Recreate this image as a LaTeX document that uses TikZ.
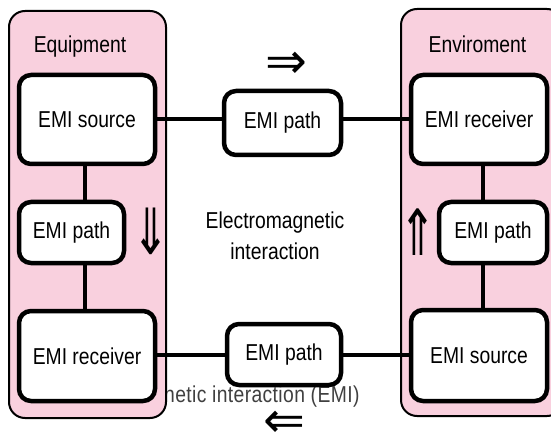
\documentclass[tikz,border=0pt]{standalone}
\usepackage{fontspec}
\setmainfont{Liberation Sans}[FakeStretch=0.84]
\newfontfamily\captionfont{Liberation Sans}[FakeStretch=0.84,LetterSpace=1.6]
\newfontfamily\arrowfont{DejaVu Sans}
\usetikzlibrary{positioning}
\definecolor{zonepink}{RGB}{249,208,222}

\begin{document}
\begin{tikzpicture}[x=1pt,y=-1pt,font=\fontsize{23}{31}\selectfont]
\tikzset{zone/.style={draw,line width=2pt,fill=zonepink,rounded corners=16pt,inner sep=0pt}};
\tikzset{emibox/.style={draw,line width=4.5pt,fill=white,rounded corners=12pt,inner sep=0pt}};
\tikzset{link/.style={line width=4pt}};
\tikzset{dirarrow/.style={font=\arrowfont,inner sep=0pt}};
\useasboundingbox (0,0) rectangle (551,438);
% the caption lying under the boxes
\node[anchor=base east,text=black!75,font=\captionfont\fontsize{23}{31}\selectfont] (caption) at (363,402) {Electromagnetic interaction (EMI)};
% the two sides
\node[zone,minimum width=157pt,minimum height=407pt] (equipment) at (87.5,214.5) {};
\node[zone,minimum width=162pt,minimum height=407pt] (enviroment) at (482,212.5) {};
\node[anchor=base] (eqtitle) at (80,53) {Equipment};
\node[anchor=base] (envtitle) at (477.5,53) {Enviroment};
% left column
\node[emibox,minimum width=136pt,minimum height=89pt] (srcL) at (87,119.5) {EMI source};
\node[emibox,minimum width=105pt,minimum height=61pt] (pathL) at (71.5,232.5) {EMI path};
\node[emibox,minimum width=136pt,minimum height=90pt] (rcvL) at (87,356) {EMI receiver};
% right column
\node[emibox,minimum width=136pt,minimum height=89pt] (rcvR) at (479,119.5) {EMI receiver};
\node[emibox,minimum width=108pt,minimum height=61pt] (pathR) at (493,232.5) {EMI path};
\node[emibox,minimum width=136pt,minimum height=91pt] (srcR) at (479,355.5) {EMI source};
% paths in between
\node[emibox,minimum width=117pt,minimum height=64pt] (pathT) at (282.5,123) {EMI path};
\node[emibox,minimum width=114pt,minimum height=61pt] (pathB) at (284,354.5) {EMI path};
\node[align=center] (middle) at (275,236) {Electromagnetic\\interaction};
% directions
\node[dirarrow,font=\arrowfont\fontsize{50}{50}\selectfont] (toright) at (286,65.5) {⇒};
\node[dirarrow,font=\arrowfont\fontsize{50}{50}\selectfont] (toleft) at (284,424) {⇐};
\node[dirarrow,font=\arrowfont\fontsize{44}{44}\selectfont] (down) at (151,231) {\scalebox{1}[1.45]{⇓}};
\node[dirarrow,font=\arrowfont\fontsize{44}{44}\selectfont] (up) at (418,232) {\scalebox{1}[1.45]{⇑}};
% connections
\draw[link] (srcL.east) -- (srcL.east -| pathT.west);
\draw[link] (pathT.east |- rcvR.west) -- (rcvR.west);
\draw[link] ([xshift=-2pt]srcL.south) -- ([xshift=-2pt]srcL.south |- pathL.north);
\draw[link] ([xshift=-2pt]rcvL.north |- pathL.south) -- ([xshift=-2pt]rcvL.north);
\draw[link] ([xshift=4pt]rcvR.south) -- ([xshift=4pt]rcvR.south |- pathR.north);
\draw[link] ([xshift=4pt]srcR.north |- pathR.south) -- ([xshift=4pt]srcR.north);
\draw[link] ([yshift=1pt]rcvL.east) -- ([yshift=1pt]rcvL.east -| pathB.west);
\draw[link] ([yshift=1pt]pathB.east |- srcR.west) -- ([yshift=1pt]srcR.west);
\end{tikzpicture}
\end{document}
